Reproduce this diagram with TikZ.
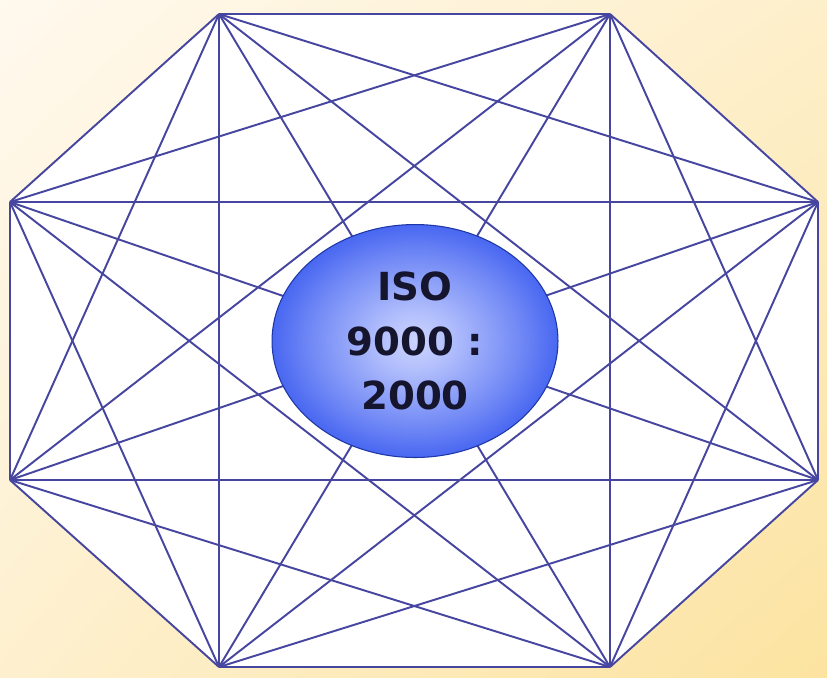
\documentclass[tikz,border=0pt]{standalone}
\usepackage{fontspec}
\setmainfont{DejaVu Sans}
\usepackage{tikz}
\usetikzlibrary{shapes.geometric, shadings, calc}
\definecolor{isoline}{HTML}{4646A0}
\definecolor{isoblue}{HTML}{2A4EEE}
\definecolor{isolight}{HTML}{CCD4FF}
\definecolor{isoink}{HTML}{15152E}
\definecolor{bgcream}{HTML}{FFF9EE}
\definecolor{bgyellow}{HTML}{FCE3A0}
\pgfdeclareradialshading{isoglow}{\pgfpoint{0bp}{0bp}}{%
  color(0bp)=(isolight); color(6bp)=(isolight!85!isoblue);
  color(18bp)=(isoblue!55!isolight); color(30bp)=(isoblue); color(100bp)=(isoblue)}

\begin{document}
\begin{tikzpicture}[
    x=0.02cm, y=-0.02cm,
    edge/.style={draw=isoline, line width=1.1pt},
    hub/.style={ellipse, draw=isoblue!70!black, line width=0.6pt, shading=isoglow,
      minimum width=5.72cm, minimum height=4.66cm, inner sep=0pt,
      align=center, text=isoink,
      font=\bfseries\fontsize{22}{31}\selectfont}
]
% background
\shade[upper left=bgcream, upper right=bgcream!55!bgyellow,
       lower left=bgcream!60!bgyellow, lower right=bgyellow]
  (0,0) rectangle (827,677);
\useasboundingbox (0,0) rectangle (827,677);

% octagon corners
\coordinate (v1) at (219,14);
\coordinate (v2) at (610,14);
\coordinate (v3) at (818,202);
\coordinate (v4) at (818,480);
\coordinate (v5) at (610,667);
\coordinate (v6) at (219,667);
\coordinate (v7) at (10,480);
\coordinate (v8) at (10,202);

\fill[white] (v1) -- (v2) -- (v3) -- (v4) -- (v5) -- (v6) -- (v7) -- (v8) -- cycle;

% every corner to every corner
\foreach \i in {1,...,7}{
  \pgfmathtruncatemacro\k{\i+1}
  \foreach \j in {\k,...,8}
    \draw[edge] (v\i) -- (v\j);
}

\node[hub] (iso) at (415,341) {ISO\\9000 :\\2000};
\end{tikzpicture}
\end{document}
